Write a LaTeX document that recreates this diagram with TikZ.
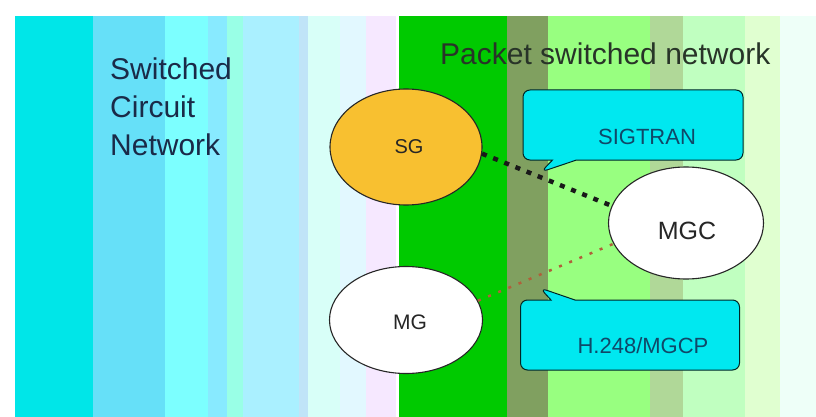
\documentclass[tikz,border=0pt]{standalone}
\usepackage{fontspec}
\setmainfont{Liberation Sans}
\usetikzlibrary{shapes.geometric,shapes.callouts}

% stripe palette, left (circuit side) to right (packet side)
\definecolor{sA}{HTML}{00E6E8}
\definecolor{sB}{HTML}{66E0F8}
\definecolor{sC}{HTML}{7CFFFF}
\definecolor{sD}{HTML}{88EAFF}
\definecolor{sE}{HTML}{99FFE6}
\definecolor{sF}{HTML}{AAF0FF}
\definecolor{sG}{HTML}{C0E4F8}
\definecolor{sH}{HTML}{D8FFF8}
\definecolor{sI}{HTML}{E2F8FF}
\definecolor{sJ}{HTML}{F6E8FF}
\definecolor{sK}{HTML}{00CA00}
\definecolor{sL}{HTML}{80A060}
\definecolor{sM}{HTML}{98FF80}
\definecolor{sN}{HTML}{B0D898}
\definecolor{sO}{HTML}{C0FFC0}
\definecolor{sP}{HTML}{E0FFD0}
\definecolor{sQ}{HTML}{EEFFF8}
\definecolor{sgfill}{HTML}{F8C030}
\definecolor{callfill}{HTML}{00E8F0}
\definecolor{calltext}{HTML}{104868}
\definecolor{leftlabel}{HTML}{1A2A48}
\definecolor{rightlabel}{HTML}{283428}
\definecolor{megaco}{HTML}{B0603A}

\tikzset{
  netbox/.style={ellipse, draw=black!85, line width=1.1pt, inner sep=0pt},
  nodetext/.style={text=black!85, inner sep=0pt},
  callbox/.style={rectangle callout, rounded corners=7pt, fill=callfill,
    draw=black!70!teal, line width=1pt, inner sep=0pt, callout pointer width=24pt},
  calllabel/.style={text=calltext, inner sep=0pt, font=\fontsize{22}{24}\selectfont},
  sigline/.style={draw=black!90, line width=4.5pt, dash pattern=on 5pt off 7pt},
  ctrlline/.style={draw=megaco, line width=2.5pt, dash pattern=on 3pt off 8pt},
  title/.style={inner sep=0pt, anchor=base west, font=\fontsize{30}{38}\selectfont}
}

\begin{document}
\begin{tikzpicture}[x=1pt,y=-1pt]
\useasboundingbox (0,0) rectangle (816,417);
\fill[white] (0,0) rectangle (816,417);

% vertical colour bands
\foreach \xa/\xb/\c in {15/93/sA, 93/165/sB, 165/208/sC, 208/227/sD, 227/243/sE,
  243/299/sF, 299/308/sG, 308/340/sH, 340/366/sI, 366/396/sJ, 399/507/sK,
  507/548/sL, 548/650/sM, 650/683/sN, 683/745/sO, 745/780/sP, 780/816/sQ}
  \fill[\c] (\xa,16) rectangle (\xb,417);

% region titles
\node[title, text=leftlabel, align=left, anchor=north west] (scn) at (110,58)
  {Switched\\Circuit\\Network};
\node[title, text=rightlabel] (psn) at (440,65) {Packet switched network};

% network elements
\node[netbox, fill=sgfill, minimum width=152pt, minimum height=116pt] (sg) at (406,147) {};
\node[netbox, fill=white, minimum width=153pt, minimum height=107pt] (mg) at (406,320) {};
\node[netbox, fill=white, minimum width=155pt, minimum height=112pt] (mgc) at (686,223) {};
\node[nodetext, font=\fontsize{20}{24}\selectfont] (sgt) at (409,147) {SG};
\node[nodetext, font=\fontsize{21}{24}\selectfont] (mgt) at (410,322) {MG};
\node[nodetext, font=\fontsize{25}{28}\selectfont] (mgct) at (687,231) {MGC};

% signalling and media-control links
\draw[sigline] (sg.-5) -- (mgc.167);
\draw[ctrlline] (mg.15) -- (mgc.196);

% protocol callouts
\coordinate (sigtip) at (541,172);
\coordinate (megtip) at (540,288);
\node[callbox, minimum width=220pt, minimum height=70pt,
  callout absolute pointer={(sigtip)}] (sigbox) at (633,125) {};
\node[calllabel] (sigt) at (647,137) {SIGTRAN};
\node[callbox, minimum width=219pt, minimum height=70pt,
  callout absolute pointer={(megtip)}] (megbox) at (630,335) {};
\node[calllabel] (megt) at (643,346) {H.248/MGCP};
\end{tikzpicture}
\end{document}
